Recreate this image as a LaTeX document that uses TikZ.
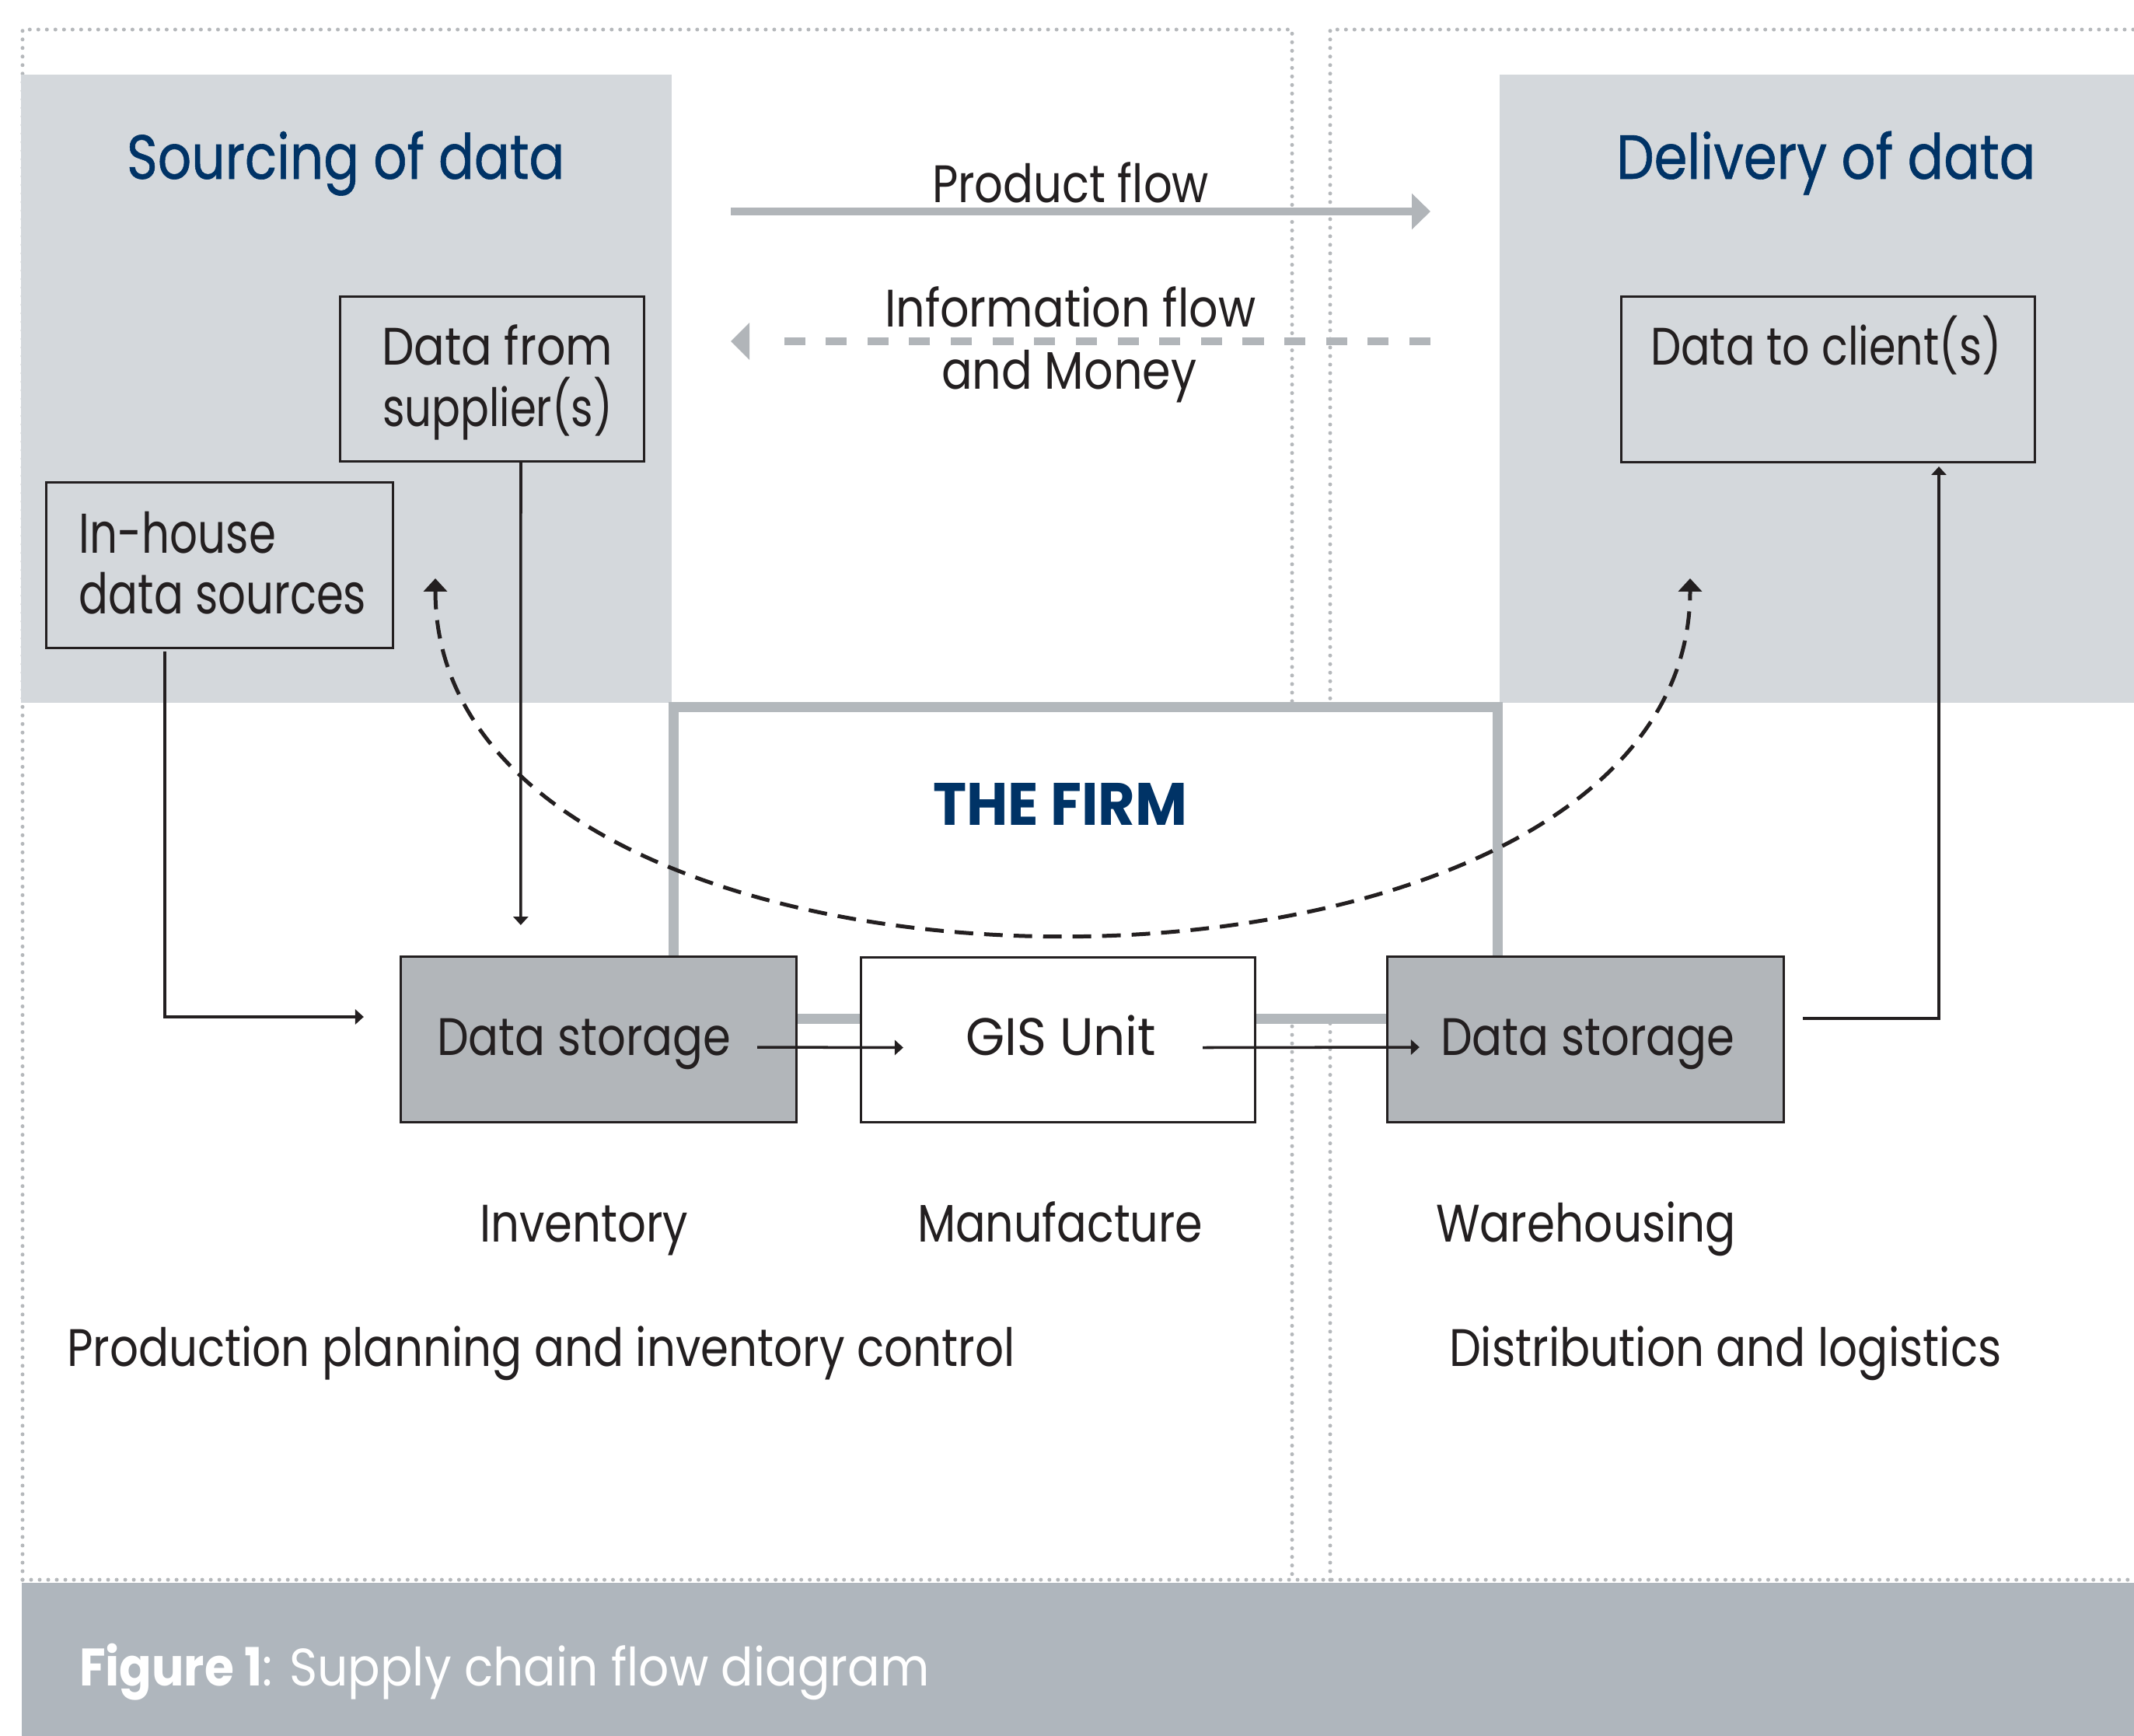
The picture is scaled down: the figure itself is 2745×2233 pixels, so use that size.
\documentclass[tikz,border=0pt]{standalone}
\usepackage{fontspec}
\setmainfont{Poppins}
\newfontfamily\headfont{Poppins}[FakeBold=0.8]
\usepackage{graphicx}
\usetikzlibrary{arrows.meta,calc}

\definecolor{ink}{RGB}{35,31,32}
\definecolor{navy}{RGB}{0,51,102}
\definecolor{panelgray}{RGB}{212,216,220}
\definecolor{boxgray}{RGB}{178,182,186}
\definecolor{flowgray}{RGB}{177,181,185}
\definecolor{firmgray}{RGB}{179,184,188}
\definecolor{bandgray}{RGB}{175,182,189}
\definecolor{dotgray}{RGB}{181,184,187}

% squeeze or stretch a text horizontally to a given width
\newcommand\fitw[2]{\resizebox{#1}{\height}{#2}}

\tikzset{
  txt/.style={anchor=base west, inner sep=0pt, outer sep=0pt, text=ink,
              font=\fontsize{19.3}{23}\selectfont},
  headtxt/.style={txt, text=navy, font=\fontsize{22.8}{27}\selectfont\headfont},
  dotline/.style={draw=dotgray, line width=1.42pt, line cap=round,
                  dash pattern=on 0pt off 3.13pt},
  panel/.style={fill=panelgray},
  box/.style={draw=ink, line width=0.85pt, inner sep=0pt, outer sep=0pt},
  conn/.style={draw=ink, line width=1pt, -{Triangle[length=3.1pt,width=5.4pt]}},
  loopline/.style={draw=ink, line width=1.42pt, dash pattern=on 6.8pt off 4pt,
                   {Triangle[length=4.8pt,width=8.5pt]}-{Triangle[length=4.8pt,width=8.5pt]}},
  flowline/.style={draw=flowgray, line width=2.95pt},
}

\begin{document}
\begin{tikzpicture}[x=0.01cm,y=-0.01cm]
\useasboundingbox (0,0) rectangle (2745,2233);
\fill[white] (0,0) rectangle (2745,2233);

% frame of the two halves
\draw[dotline] (29,2032) -- (29,38) -- (1662,38) -- (1662,2032);
\draw[dotline] (1711,2032) -- (1711,38) -- (2745,38);
\draw[dotline] (29,2032) -- (2745,2032);

% shaded upper panels
\fill[panel] (27,96) rectangle (864,904);
\fill[panel] (1929,96) rectangle (2745,904);

% caption band
\fill[bandgray] (28,2036) rectangle (2745,2233);

% the firm
\node[draw=firmgray, fill=white, line width=3.7pt, inner sep=0pt,
      minimum width=10.59cm, minimum height=4cm] (firm) at (1396.5,1110) {};

% boxes
\node[box, minimum width=3.9cm, minimum height=2.11cm] (datafrom) at (633,487.5) {};
\node[box, minimum width=4.45cm, minimum height=2.12cm] (inhouse) at (282.5,727) {};
\node[box, minimum width=5.31cm, minimum height=2.12cm] (toclient) at (2351.5,488) {};
\node[box, fill=boxgray, minimum width=5.08cm, minimum height=2.12cm] (dsL) at (770,1337) {};
\node[box, fill=white, minimum width=5.06cm, minimum height=2.11cm] (gis) at (1361,1337.5) {};
\node[box, fill=boxgray, minimum width=5.09cm, minimum height=2.12cm] (dsR) at (2039.5,1337) {};

% headings
\node[headtxt] (hsrc) at (163,230) {\fitw{5.63cm}{Sourcing of data}};
\node[headtxt] (hdlv) at (2079,230) {\fitw{5.39cm}{Delivery of data}};
\node[headtxt, font=\fontsize{21.9}{26}\selectfont\bfseries] (hfirm) at (1200,1061) {\fitw{3.27cm}{THE FIRM}};

% flow arrows
\coordinate (pf0) at (940,272);
\coordinate (pf1) at (1840,272);
\draw[flowline, -{Triangle[length=6.8pt,width=12.8pt]}] (pf0) -- (pf1);
\node[txt] (tpf) at (1199,260) {\fitw{3.56cm}{Product flow}};

\coordinate (if0) at (940,439);
\coordinate (if1) at (1007,439);
\coordinate (if2) at (1840,439);
\draw[flowline, dash pattern=on 7.68pt off 7.57pt] (if2) -- (if1);
\fill[flowgray] (if0) -- ++(24,-24) -- ++(0,48) -- cycle;
\node[txt] (tif1) at (1138,420) {\fitw{4.77cm}{Information flow}};
\node[txt] (tif2) at (1211,500) {\fitw{3.28cm}{and Money}};

% box texts
\node[txt] at (491,469) {\fitw{2.97cm}{Data from}};
\node[txt] at (492,548) {\fitw{2.96cm}{supplier(s)}};
\node[txt] at (2123,469) {\fitw{4.51cm}{Data to client(s)}};
\node[txt, font=\fontsize{20.5}{24}\selectfont] at (102,711) {\fitw{2.53cm}{In-house}};
\node[txt, font=\fontsize{20.5}{24}\selectfont] at (102,789) {\fitw{3.69cm}{data sources}};
\node[txt] at (562,1357) {\fitw{3.78cm}{Data storage}};
\node[txt] at (1242,1357) {\fitw{2.45cm}{GIS Unit}};
\node[txt] at (1853,1357) {\fitw{3.78cm}{Data storage}};

% stage labels
\node[txt] at (617,1597) {\fitw{2.68cm}{Inventory}};
\node[txt] at (1180,1597) {\fitw{3.67cm}{Manufacture}};
\node[txt] at (1847,1597) {\fitw{3.86cm}{Warehousing}};
\node[txt] at (86,1757) {\fitw{12.19cm}{Production planning and inventory control}};
\node[txt] at (1864,1757) {\fitw{7.10cm}{Distribution and logistics}};

% caption
\node[txt, text=white] (cap) at (102,2168) {\fitw{10.93cm}{{\bfseries Figure 1}: Supply chain flow diagram}};

% connectors
\draw[conn] ($(inhouse.south west)+(152,5)$) |- ($(dsL.west)+(-48,-29)$);
\draw[conn] ($(datafrom.south)+(37,0)$) -- ($(dsL.north west)+(154,-41)$);
\draw[conn] ($(dsL.east)+(-50,10)$) -- ($(gis.west)+(54,10)$);
\draw[conn] ($(gis.east)+(-67,10)$) -- ($(dsR.west)+(41,10)$);
\draw[conn] ($(dsR.east)+(25,-27)$) -| ($(toclient.south)+(142.5,6)$);

% feedback loop from the firm to both sides
\coordinate (loopL) at (560,744);
\coordinate (loopR) at (2174,744);
\draw[loopline] (loopL) .. controls (560,1353) and (2174,1353) .. (loopR);
\end{tikzpicture}
\end{document}
